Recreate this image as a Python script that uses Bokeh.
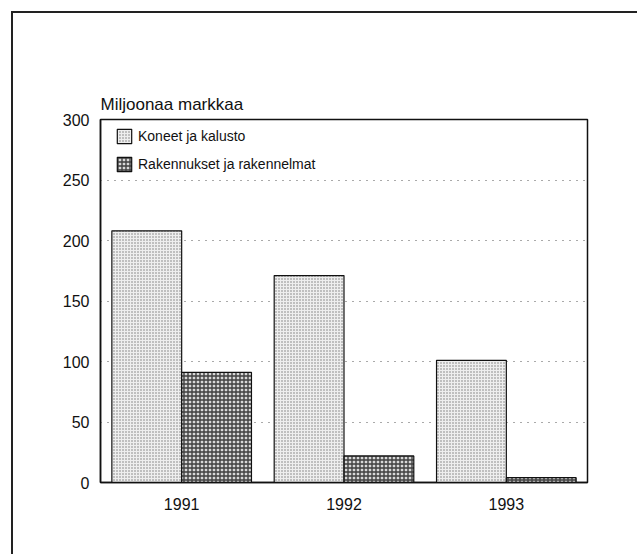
from bokeh.plotting import figure
from bokeh.models import FactorRange, Legend, LegendItem, ColumnDataSource
from bokeh.transform import dodge
from bokeh.embed import file_html
from bokeh.resources import INLINE

years = ["1991", "1992", "1993"]
koneet = [208, 171, 101]
rakennukset = [91, 22, 4]
series_names = ["Koneet ja kalusto", "Rakennukset ja rakennelmat"]
y_ticks = [0, 50, 100, 150, 200, 250, 300]

src = ColumnDataSource(dict(year=years, koneet=koneet, rak=rakennukset))

p = figure(width=626, height=543, x_range=FactorRange(*years, range_padding=0),
           y_range=(0, 300), output_backend="svg", toolbar_location=None,
           title="Miljoonaa markkaa")
p.styles = {"border-top": "2px solid #222", "border-left": "2px solid #222",
            "margin-left": "11px", "margin-top": "11px"}
p.min_border_left = 87
p.min_border_top = 106
p.min_border_right = 52
p.min_border_bottom = 74

FONT = "Liberation Sans"
p.title.text_font = FONT
p.title.text_font_size = "17px"
p.title.text_font_style = "normal"
p.title.text_color = "#111"
p.title.align = "left"
p.title.standoff = 12

r1 = p.vbar(x=dodge("year", -0.215, range=p.x_range), top="koneet", width=0.43, source=src,
            fill_color="#eeeeee", line_color="#111", line_width=1.2,
            hatch_pattern="dot", hatch_color="#777", hatch_scale=3, hatch_weight=1.2)
r2 = p.vbar(x=dodge("year", 0.215, range=p.x_range), top="rak", width=0.43, source=src,
            fill_color="#d8d8d8", line_color="#111", line_width=1.2,
            hatch_pattern="cross", hatch_color="#404040", hatch_scale=4, hatch_weight=1.4)

legend = Legend(items=[LegendItem(label=series_names[0], renderers=[r1]),
                       LegendItem(label=series_names[1], renderers=[r2])],
                location=(15, 308), margin=0, padding=0, spacing=8,
                glyph_width=18, glyph_height=18, label_height=20,
                label_text_font=FONT, label_text_font_size="14px", label_text_color="#111",
                border_line_color=None, background_fill_alpha=0, label_standoff=5)
p.add_layout(legend)

p.yaxis.ticker = y_ticks
p.xgrid.grid_line_color = None
p.ygrid.grid_line_color = "#555"
p.ygrid.grid_line_dash = "1 6"
p.ygrid.grid_line_width = 1

for ax in (p.xaxis, p.yaxis):
    ax.axis_line_color = "#111"
    ax.axis_line_width = 1.5
    ax.major_tick_line_color = None
    ax.minor_tick_line_color = None
    ax.major_label_text_font = FONT
    ax.major_label_text_font_size = "16px"
    ax.major_label_text_color = "#111"
p.yaxis.major_label_standoff = 5
p.xaxis.major_label_standoff = 9

p.outline_line_color = "#111"
p.outline_line_width = 1.5

open("out.html", "w").write(file_html(p, INLINE))
